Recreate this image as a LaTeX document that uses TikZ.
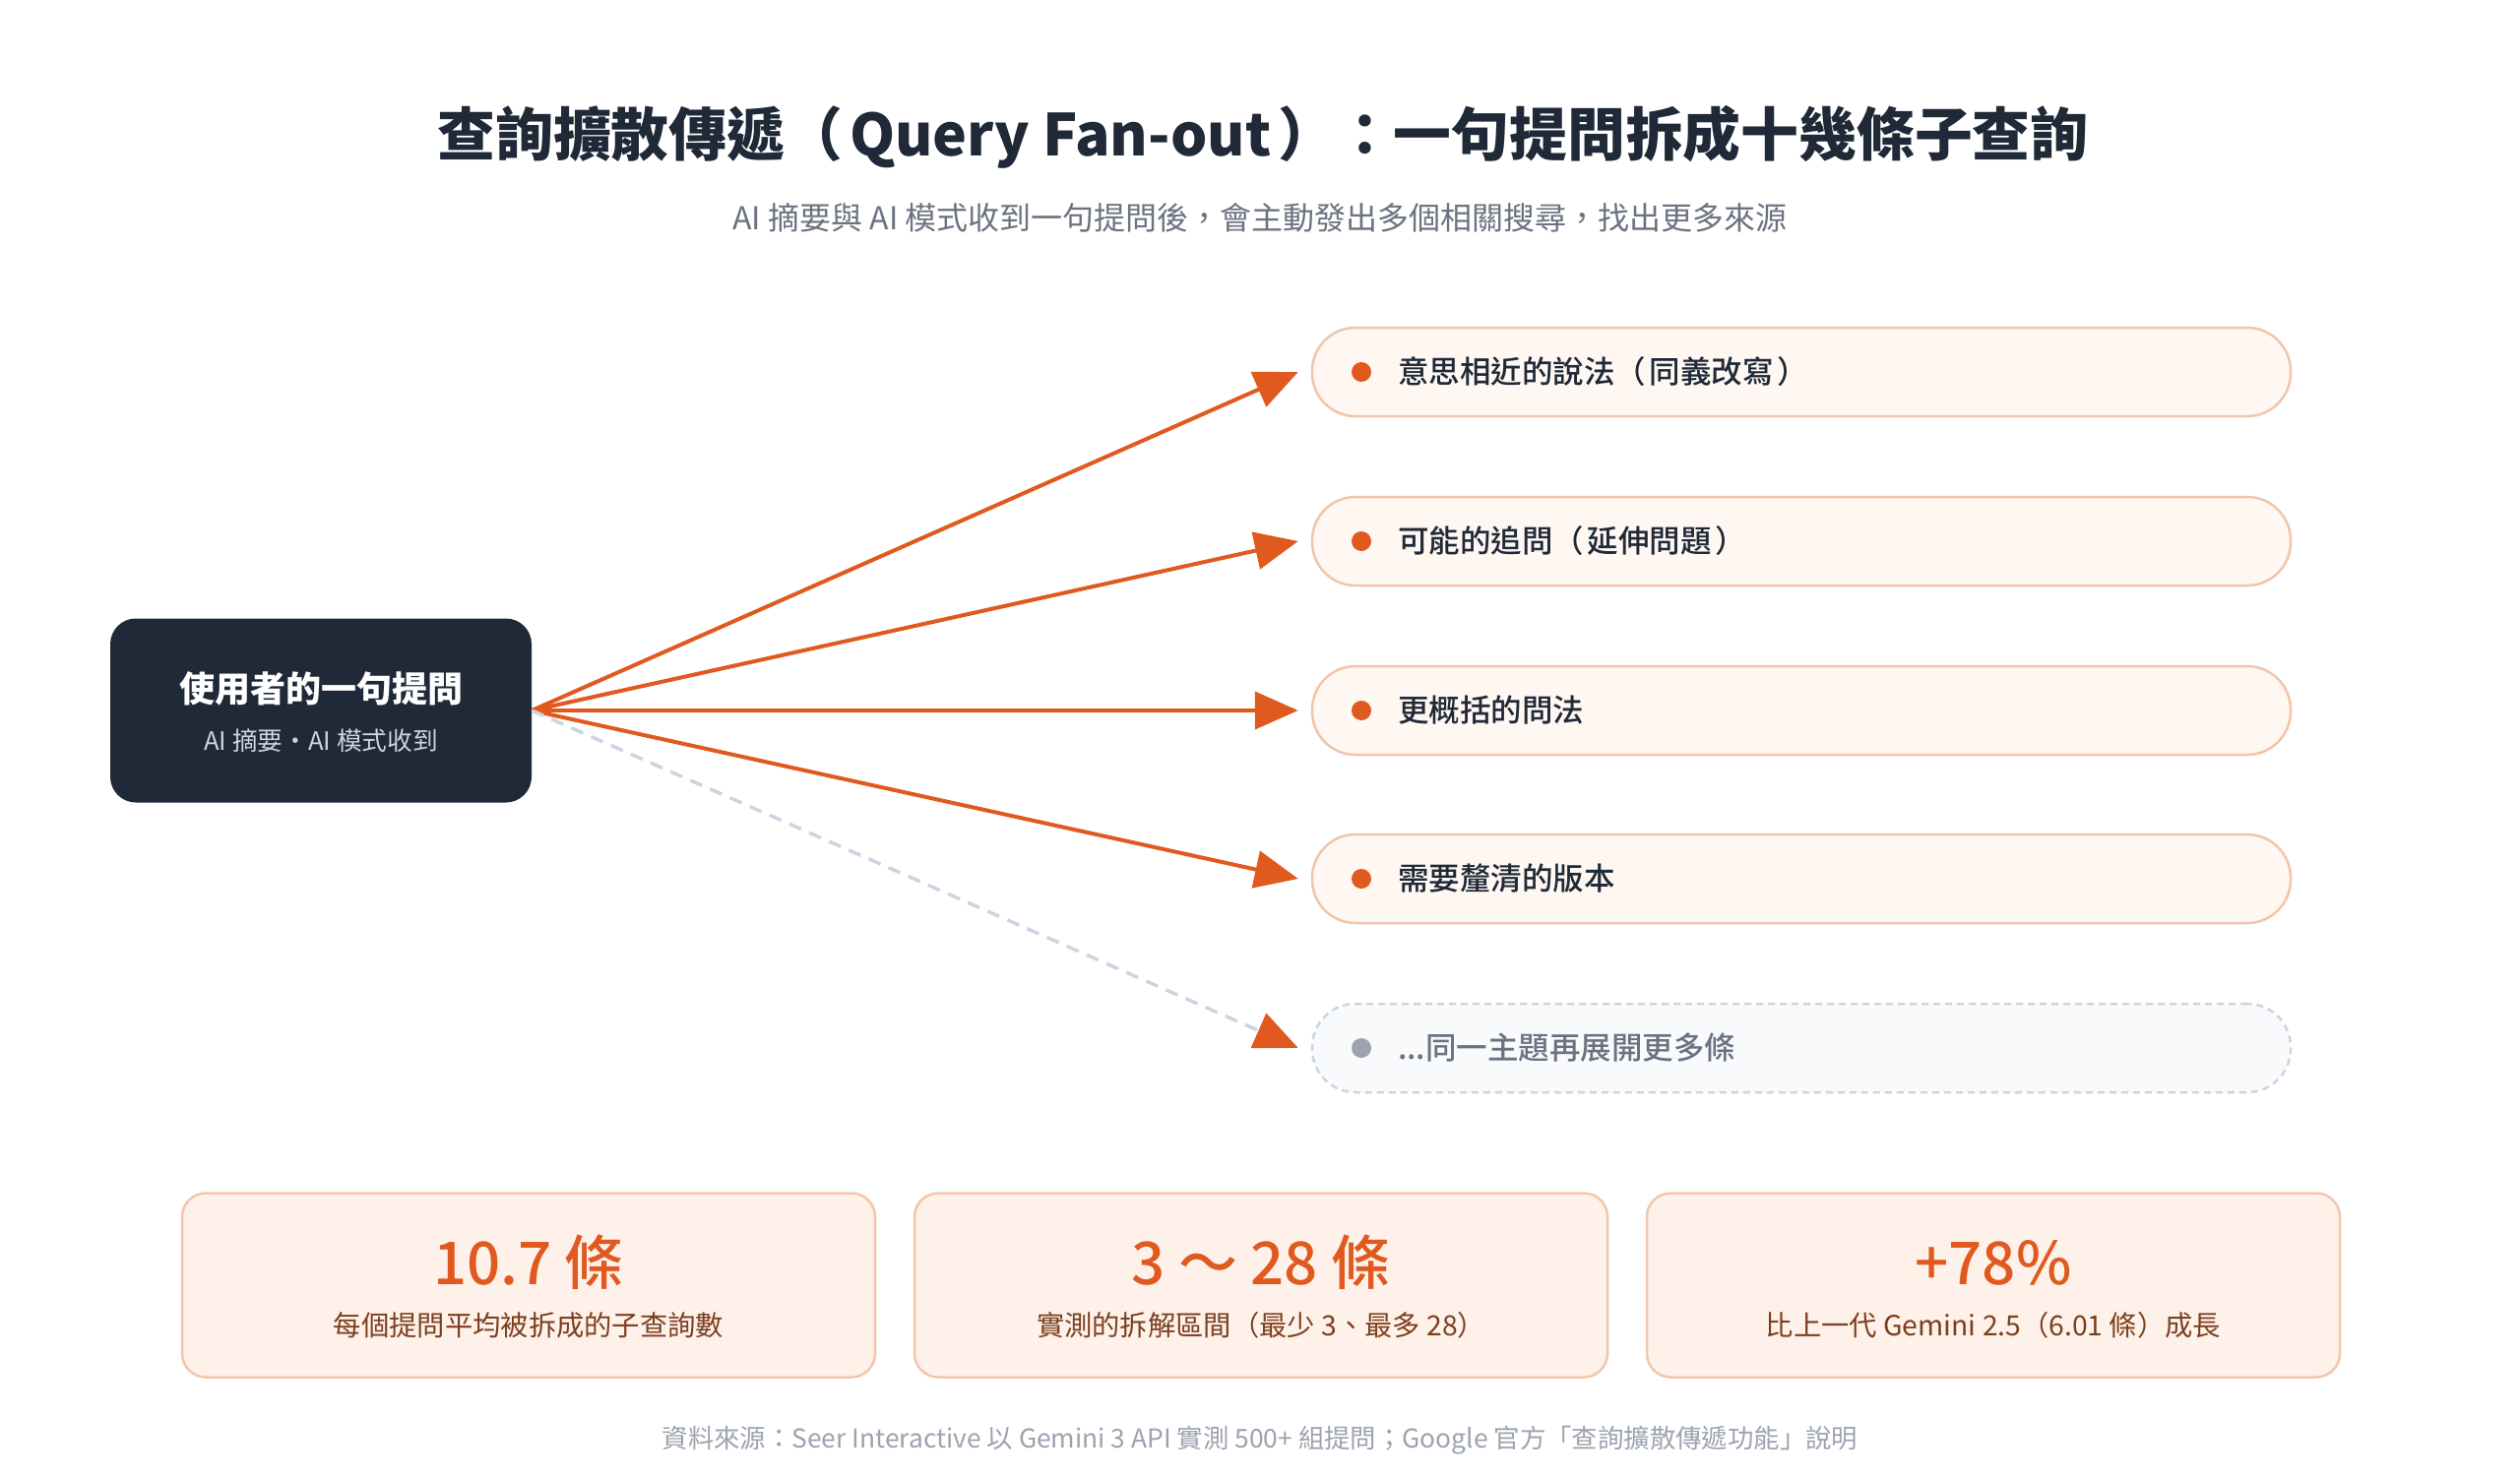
\documentclass[tikz,border=0pt]{standalone}
\usepackage{fontspec}
\setmainfont{Noto Sans CJK TC}
\newfontfamily\medfont{Noto Sans CJK TC Medium}
\usetikzlibrary{arrows.meta}
\definecolor{ink}{HTML}{1F2937}
\definecolor{subgray}{HTML}{6B7280}
\definecolor{footgray}{HTML}{9CA3AF}
\definecolor{orangeA}{HTML}{E05A1F}
\definecolor{pillfill}{HTML}{FFF7F1}
\definecolor{pillline}{HTML}{F0C6AA}
\definecolor{statfill}{HTML}{FEF1EA}
\definecolor{statline}{HTML}{F2C7AC}
\definecolor{brown}{HTML}{7C3F1D}
\definecolor{dashline}{HTML}{CBD5E1}
\definecolor{ghostfill}{HTML}{F8FAFC}
\definecolor{srcsub}{HTML}{CBD5E1}
\tikzset{
  txt/.style={inner sep=0pt, outer sep=0pt},
  titletxt/.style={txt, text=ink, font=\fontsize{58.8}{70}\selectfont\bfseries},
  subtxt/.style={txt, text=subgray, font=\fontsize{32}{38}\selectfont},
  srcbox/.style={fill=ink, rounded corners=26pt, minimum width=428pt, minimum height=187pt, inner sep=0pt},
  srctitle/.style={txt, text=white, font=\fontsize{36}{44}\selectfont\bfseries},
  srcsubtxt/.style={txt, text=srcsub, font=\fontsize{25.7}{30}\selectfont},
  pill/.style={fill=pillfill, draw=pillline, line width=2.5pt, rounded corners=44pt, minimum width=994pt, minimum height=90pt, inner sep=0pt},
  ghostpill/.style={pill, fill=ghostfill, draw=dashline, dash pattern=on 7pt off 5pt},
  dotmark/.style={circle, fill=orangeA, minimum size=20pt, inner sep=0pt},
  ghostdot/.style={dotmark, fill=footgray},
  pilltxt/.style={txt, anchor=west, text=ink, font=\fontsize{31.5}{36}\medfont},
  ghosttxt/.style={pilltxt, text=subgray},
  arr/.style={draw=orangeA, line width=4pt, -{Triangle[length=44pt, width=38pt, color=orangeA]}},
  dasharr/.style={draw=dashline, line width=3.5pt, dash pattern=on 13pt off 9pt, -{Triangle[length=44pt, width=38pt, color=orangeA]}},
  statbox/.style={fill=statfill, draw=statline, line width=2.5pt, rounded corners=24pt, minimum width=704pt, minimum height=187pt, inner sep=0pt},
  bignum/.style={txt, text=orangeA, font=\fontsize{60}{72}\medfont},
  statlbl/.style={txt, text=brown, font=\fontsize{28.3}{34}\selectfont},
  foottxt/.style={txt, text=footgray, font=\fontsize{26.4}{32}\selectfont}
}
\begin{document}
\begin{tikzpicture}[x=1pt,y=-1pt]
\fill[white] (0,0) rectangle (2560,1504);
\path[use as bounding box] (0,0) rectangle (2560,1504);

% title
\node[titletxt] (title) at (1283,139) {查詢擴散傳遞（\kern0.12em Query Fan-out\kern0.12em）：一句提問拆成十幾條子查詢};
\node[subtxt] (subtitle) at (1280,221) {AI 摘要與 AI 模式收到一句提問後，會主動發出多個相關搜尋，找出更多來源};

% source
\node[srcbox] (src) at (326,722) {};
\node[srctitle] (srct) at (326,700) {使用者的一句提問};
\node[srcsubtxt] (srcs) at (326,753) {AI 摘要・AI 模式收到};

% pills
\node[pill] (p1) at (1830,378) {};
\node[pill] (p2) at (1830,550) {};
\node[pill] (p3) at (1830,722) {};
\node[pill] (p4) at (1830,893) {};
\node[ghostpill] (p5) at (1830,1065) {};

\node[dotmark] (d1) at (1383,378) {};
\node[dotmark] (d2) at (1383,550) {};
\node[dotmark] (d3) at (1383,722) {};
\node[dotmark] (d4) at (1383,893) {};
\node[ghostdot] (d5) at (1383,1065) {};

\node[pilltxt] (t1) at (1420,378) {意思相近的說法（\kern0.12em 同義改寫\kern0.12em）};
\node[pilltxt] (t2) at (1420,550) {可能的追問（\kern0.12em 延伸問題\kern0.12em）};
\node[pilltxt] (t3) at (1420,722) {更概括的問法};
\node[pilltxt] (t4) at (1420,893) {需要釐清的版本};
\node[ghosttxt] (t5) at (1420,1065) {...同一主題再展開更多條};

% arrows
\draw[arr] (src.east) -- ([xshift=-13pt]p1.west);
\draw[arr] (src.east) -- ([xshift=-13pt]p2.west);
\draw[arr] (src.east) -- ([xshift=-13pt]p3.west);
\draw[arr] (src.east) -- ([xshift=-13pt]p4.west);
\draw[dasharr] (src.east) -- ([xshift=-13pt]p5.west);

% stats
\node[statbox] (s1) at (537,1306) {};
\node[statbox] (s2) at (1281,1306) {};
\node[statbox] (s3) at (2025,1306) {};

\node[bignum] (n1) at (537,1283) {10.7 條};
\node[bignum] (n2) at (1281,1283) {3 ～ 28 條};
\node[bignum] (n3) at (2025,1283) {+78\%};

\node[statlbl] (l1) at (537,1347) {每個提問平均被拆成的子查詢數};
\node[statlbl] (l2) at (1281,1347) {實測的拆解區間（最少 3、最多 28）};
\node[statlbl] (l3) at (2025,1347) {比上一代 Gemini 2.5（6.01 條）成長};

% footer
\node[foottxt] (foot) at (1280,1464) {資料來源：Seer Interactive 以 Gemini 3 API 實測 500+ 組提問；Google 官方「查詢擴散傳遞功能」說明};
\end{tikzpicture}
\end{document}
